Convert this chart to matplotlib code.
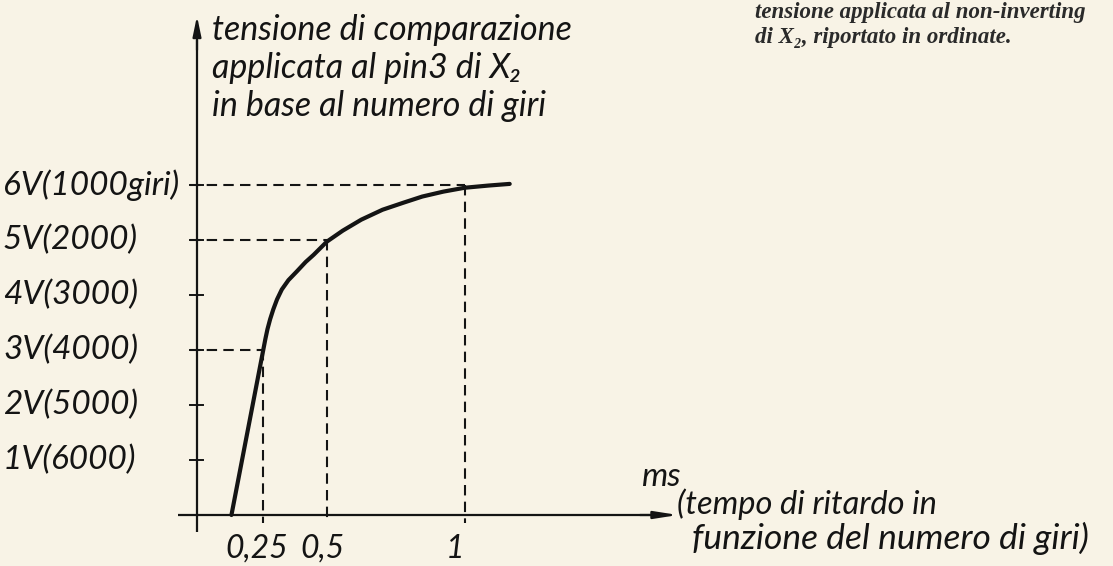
"""
Tensione di comparazione vs tempo di ritardo (scanned diagram redraw).
"""

import matplotlib.pyplot as plt

plt.rcParams["font.family"] = ["Lato", "DejaVu Sans"]

# ------------------------------------------------------------------
# data
# ------------------------------------------------------------------
VOLTS = [1, 2, 3, 4, 5, 6]
GIRI = [6000, 5000, 4000, 3000, 2000, 1000]
TICK_MS = [0.25, 0.5, 1]
TICK_LABELS = ["0,25", "0,5", "1"]

CURVE_MS = [0.13, 0.19, 0.25, 0.258, 0.266, 0.276, 0.288, 0.302, 0.32, 0.345,
            0.377, 0.41, 0.44, 0.49, 0.55, 0.62, 0.70, 0.78, 0.85, 0.93, 1.01, 1.10, 1.18]
CURVE_V = [0.0, 1.5, 3.0, 3.2, 3.38, 3.56, 3.74, 3.92, 4.1, 4.27,
           4.43, 4.6, 4.73, 4.97, 5.17, 5.37, 5.55, 5.68, 5.79, 5.88, 5.95, 5.99, 6.02]

# guides: (ms, V) points joined to both axes
GUIDE_MS = [0.25, 0.49, 1.01]
GUIDE_V = [3, 5, 6]

BG = "#f8f3e6"
INK = "#141414"

# pixel mapping of the original drawing: x = 197 + 265*ms, y = 515 - 55*V
W, H = 1113, 566
X0, SX = 197, 265
Y0, SY = 515, 55


def px_x(p):
    return (p - X0) / SX


def px_y(p):
    return (Y0 - p) / SY


fig = plt.figure(figsize=(W / 100, H / 100), dpi=100, facecolor=BG)
ax = fig.add_axes([0, 0, 1, 1])
ax.set_facecolor(BG)
ax.set_xlim(px_x(0), px_x(W))
ax.set_ylim(px_y(H), px_y(0))
ax.axis("off")

txt = dict(style="italic", weight="normal", color=INK)

# axes with arrows
ax.plot([px_x(178), px_x(660)], [0, 0], color=INK, lw=1.6, solid_capstyle="butt")
ax.annotate("", xy=(px_x(678), 0), xytext=(px_x(640), 0),
            arrowprops=dict(arrowstyle="-|>,head_length=1.4,head_width=0.22",
                            color=INK, lw=1.6, shrinkA=0, shrinkB=0))
ax.plot([0, 0], [px_y(532), px_y(40)], color=INK, lw=1.6, solid_capstyle="butt")
ax.annotate("", xy=(0, px_y(16)), xytext=(0, px_y(50)),
            arrowprops=dict(arrowstyle="-|>,head_length=1.2,head_width=0.25",
                            color=INK, lw=1.6, shrinkA=0, shrinkB=0))

# y ticks and labels
tick_half = 6.5 / SX
for v, g in zip(VOLTS, GIRI):
    ax.plot([-tick_half, tick_half], [v, v], color=INK, lw=1.4)
    label = f"{v}V({g}giri)" if g == 1000 else f"{v}V({g})"
    ax.text(px_x(3), v, label, ha="left", va="center", fontsize=24, **txt)

# dashed guides
dash = dict(color=INK, lw=1.5, linestyle=(0, (5, 3)))
for gx, gv in zip(GUIDE_MS, GUIDE_V):
    ax.plot([-tick_half, gx], [gv, gv], **dash)
    ax.plot([gx, gx], [gv, px_y(523)], **dash)

# x tick labels
for tx, tl in zip(TICK_MS, TICK_LABELS):
    ax.text(tx - 7 / SX, px_y(549), tl, ha="center", va="center", fontsize=23, **txt)

# curve
ax.plot(CURVE_MS, CURVE_V, color=INK, lw=3.0, solid_capstyle="round",
        solid_joinstyle="round")

# axis titles
ylab = ["tensione di comparazione", "applicata al pin3 di X\u2082", "in base al numero di giri"]
for i, line in enumerate(ylab):
    ax.text(px_x(212), px_y(30 + 38 * i), line, ha="left", va="center",
            fontsize=24.5, **txt)

ax.text(px_x(641), px_y(477), "ms", ha="left", va="center", fontsize=24, **txt)
ax.text(px_x(677), px_y(504), "(tempo di ritardo in", ha="left", va="center",
        fontsize=23.5, **txt)
ax.text(px_x(692), px_y(538), "funzione del numero di giri)", ha="left", va="center",
        fontsize=25.5, **txt)

# caption fragment from the page
cap = dict(ha="left", va="center", fontsize=16.5, style="italic", weight="bold",
           color="#2a2a2a", family=["Liberation Serif", "DejaVu Serif"])
ax.text(px_x(755), px_y(12), "tensione applicata al non-inverting", **cap)
ax.text(px_x(755), px_y(37), "di X\u2082, riportato in ordinate.", **cap)

fig.savefig("out.png", dpi=100, facecolor=BG)
